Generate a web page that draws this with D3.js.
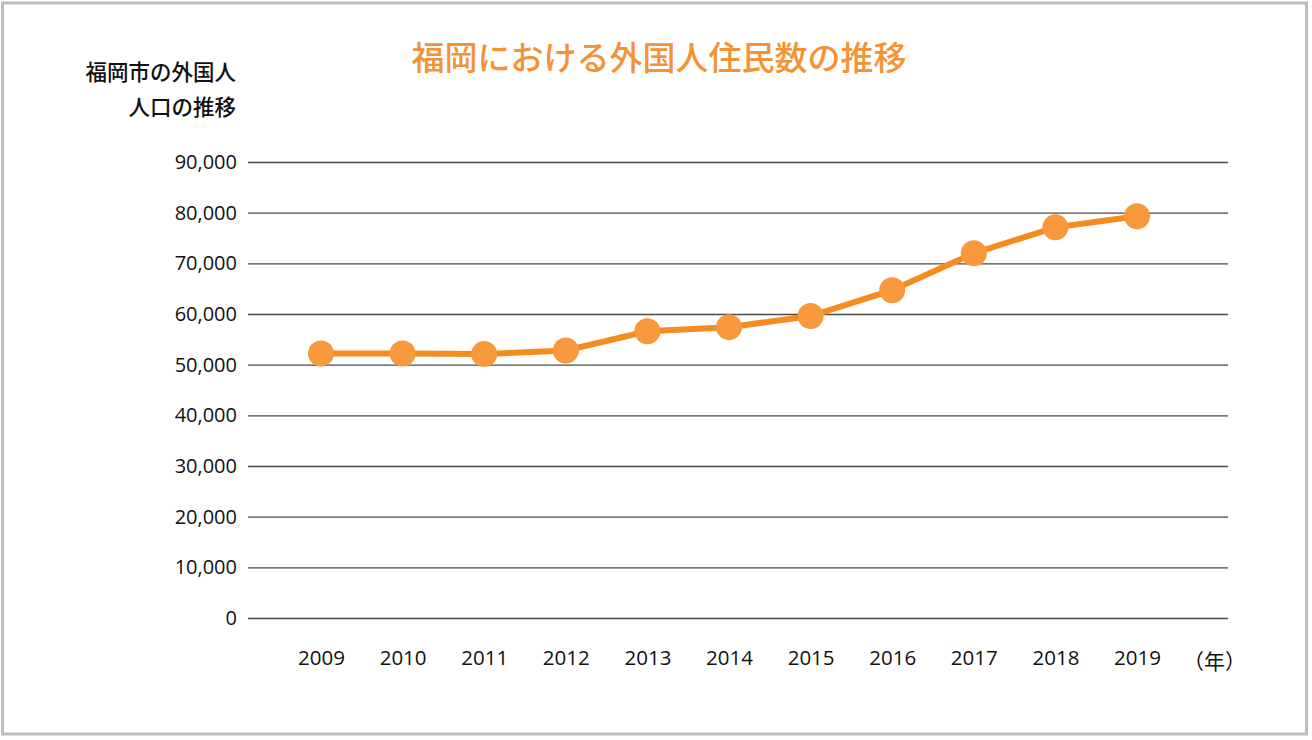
<!DOCTYPE html>
<html>
<head>
<meta charset="utf-8">
<script src="https://cdn.jsdelivr.net/npm/d3@7"></script>
<style>
  body { margin: 0; background: #fff; }
</style>
</head>
<body>
<div id="svg"></div>
<script>
var years = ["2009","2010","2011","2012","2013","2014","2015","2016","2017","2018","2019"]
var population = [52200, 52200, 52100, 52800, 56600, 57400, 59600, 64700, 72000, 77100, 79300]
var yTicks = [0, 10000, 20000, 30000, 40000, 50000, 60000, 70000, 80000, 90000]
var title = "福岡における外国人住民数の推移"
var yLabel = ["福岡市の外国人", "人口の推移"]
var xUnit = "（年）"

var orange = "#f7993c"
var lineOrange = "#f58c20"

var W = 1312, H = 740
var svg = d3.select("#svg")
  .append("svg")
    .attr("width", W)
    .attr("height", H)

// frame
svg.append("rect")
  .attr("x", 2.5).attr("y", 3)
  .attr("width", 1304).attr("height", 731)
  .style("fill", "#fff")
  .style("stroke", "#bdbdbd")
  .style("stroke-width", 3)

var left = 248, right = 1228
var y = d3.scaleLinear()
  .domain([0, 90000])
  .range([618, 162])

var x = d3.scalePoint()
  .domain(years)
  .range([321, 1137])

// grid lines + y tick labels
var yAxis = svg.append("g")
  .attr("transform", "translate(" + left + ",0)")
  .call(d3.axisLeft(y)
    .tickValues(yTicks)
    .tickSize(-(right - left))
    .tickPadding(11)
    .tickFormat(d3.format(",")))
yAxis.select(".domain").remove()
yAxis.selectAll(".tick line")
  .style("stroke", "#4a4a4a")
  .style("stroke-width", 1.3)
yAxis.selectAll(".tick text")
  .style("font-family", "'Open Sans', 'Noto Sans', sans-serif")
  .style("font-size", "20px")
  .style("fill", "#111")

// x labels
var xAxis = svg.append("g")
  .attr("transform", "translate(0,618)")
  .call(d3.axisBottom(x).tickSize(0).tickPadding(32))
xAxis.select(".domain").remove()
xAxis.selectAll(".tick text")
  .style("font-family", "'Open Sans', 'Noto Sans', sans-serif")
  .style("font-size", "20.5px")
  .style("fill", "#111")

svg.append("text")
  .attr("x", x("2019") + x.step() * 0.95)
  .attr("y", 669)
  .attr("text-anchor", "middle")
  .style("font-family", "'Noto Sans CJK JP', sans-serif")
  .style("font-size", "21px")
  .style("fill", "#111")
  .text(xUnit)

// line
var line = d3.line()
  .x(function (d, i) { return x(years[i]) })
  .y(function (d) { return y(d) })

svg.append("path")
  .datum(population)
  .attr("d", line)
  .style("fill", "none")
  .style("stroke", lineOrange)
  .style("stroke-width", 6)

svg.append("g")
  .selectAll("circle")
  .data(population)
  .enter()
  .append("circle")
  .attr("cx", function (d, i) { return x(years[i]) })
  .attr("cy", function (d) { return y(d) })
  .attr("r", 13)
  .style("fill", orange)

// title
svg.append("text")
  .attr("x", 659)
  .attr("y", 70)
  .attr("text-anchor", "middle")
  .style("font-family", "'Noto Sans CJK JP', sans-serif")
  .style("font-weight", "500")
  .style("font-size", "33px")
  .style("fill", "#f39336")
  .text(title)

// y label
svg.selectAll("ylab")
  .data(yLabel)
  .enter()
  .append("text")
  .attr("x", 236)
  .attr("y", function (d, i) { return 80 + i * 35 })
  .attr("text-anchor", "end")
  .style("font-family", "'Noto Sans CJK JP', sans-serif")
  .style("font-size", "21.5px")
  .style("font-weight", "500")
  .style("fill", "#111")
  .text(function (d) { return d })
</script>
</body>
</html>
